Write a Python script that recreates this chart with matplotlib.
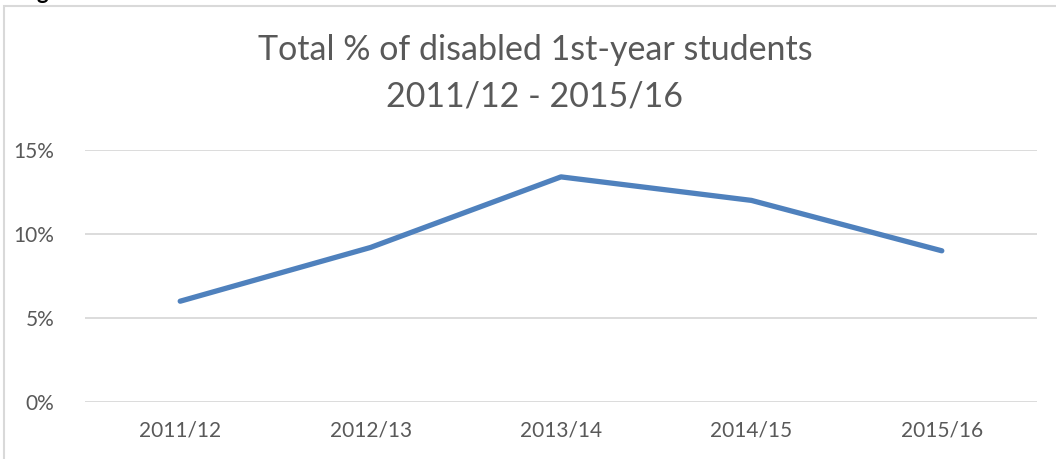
import matplotlib.pyplot as plt
from matplotlib.patches import Rectangle

years = ["2011/12", "2012/13", "2013/14", "2014/15", "2015/16"]
pct_disabled = [6.0, 9.2, 13.4, 12.0, 9.0]
y_ticks = [0, 5, 10, 15]

W, H = 1056, 459
fig = plt.figure(figsize=(W / 100, H / 100), dpi=100)
plt.rcParams["font.family"] = ["Lato", "DejaVu Sans"]

# chart border (cut off on the right and bottom in the reference)
fig.patches.append(Rectangle((4 / W, -0.1), 1.2, 1 - 5.5 / H + 0.1,
                             transform=fig.transFigure, fill=False,
                             edgecolor="#d9d9d9", linewidth=1.5))
# stray caption letter above the chart, mostly cut off
fig.text(42 / W, 1 + 1 / H, "g", fontsize=16, fontweight="bold",
         color="black", ha="center", va="baseline")

ax = fig.add_axes([85 / W, 1 - 402 / H, 952 / W, 252 / H])
x = range(len(years))
ax.plot(x, pct_disabled, color="#4f81bd", linewidth=3.8,
        solid_capstyle="round", solid_joinstyle="round")

ax.set_xlim(-0.5, len(years) - 0.5)
ax.set_ylim(0, 15)
ax.set_yticks(y_ticks)
ax.set_yticklabels([f"{v}%" for v in y_ticks])
ax.set_xticks(list(x))
ax.set_xticklabels(years)
ax.grid(axis="y", color="#d9d9d9", linewidth=1.3)
ax.set_axisbelow(True)
for s in ax.spines.values():
    s.set_visible(False)
ax.tick_params(length=0, labelsize=15, labelcolor="#595959")
ax.tick_params(axis="y", pad=22)
ax.tick_params(axis="x", pad=13)

fig.text(535 / W, 1 - 73 / H,
         "Total % of disabled 1st-year students\n2011/12 - 2015/16",
         ha="center", va="center", fontsize=24.5, color="#595959",
         linespacing=1.55)

plt.savefig("out.png", dpi=100)
plt.close()
